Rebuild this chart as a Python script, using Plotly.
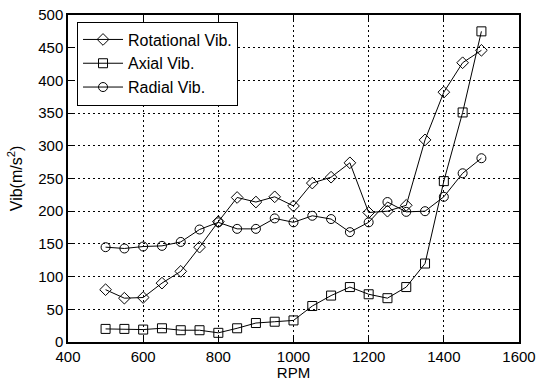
import plotly.graph_objects as go

rpm = [500, 550, 600, 650, 700, 750, 800, 850, 900, 950, 1000,
       1050, 1100, 1150, 1200, 1250, 1300, 1350, 1400, 1450, 1500]
rotational = [80, 67, 68, 90, 108, 145, 184, 221, 214, 222, 208,
              243, 252, 274, 198, 200, 209, 309, 382, 427, 446]
axial = [20, 20, 19, 21, 18, 18, 14, 21, 29, 31, 33,
         55, 71, 84, 73, 67, 84, 120, 246, 351, 475]
radial = [145, 143, 146, 147, 153, 172, 183, 173, 173, 189, 183,
          193, 188, 168, 183, 214, 199, 200, 222, 258, 281]

font = "Liberation Sans, Arial, sans-serif"
fig = go.Figure()
for name, vals, sym in [("Rotational Vib.", rotational, "diamond-open"),
                        ("Axial Vib.", axial, "square-open"),
                        ("Radial Vib.", radial, "circle-open")]:
    fig.add_trace(go.Scatter(
        x=rpm, y=vals, name=name, mode="lines+markers",
        line=dict(color="black", width=1),
        marker=dict(symbol=sym, size=9, color="black", line=dict(width=1, color="black")),
    ))

axis_common = dict(
    showline=True, linecolor="black", linewidth=1.5, mirror="ticks",
    ticks="inside", ticklen=5, tickcolor="black",
    showgrid=True, gridcolor="black", gridwidth=1, griddash="2px,3px",
    zeroline=False, tickfont=dict(family=font, size=15, color="black"),
    automargin=False,
)
fig.update_xaxes(range=[400, 1600], dtick=200, tick0=400,
                 title=dict(text="RPM", font=dict(family=font, size=15, color="black"), standoff=6),
                 **axis_common)
fig.update_yaxes(range=[0, 500], dtick=50, tick0=0,
                 title=dict(text="Vib(m/s<sup>2</sup>)", font=dict(family=font, size=16, color="black"), standoff=12),
                 **axis_common)
fig.update_layout(
    width=538, height=381,
    margin=dict(l=68, r=19, t=15, b=39),
    plot_bgcolor="white", paper_bgcolor="white",
    font=dict(family=font, size=15, color="black"),
    legend=dict(x=0.02, y=0.98, xanchor="left", yanchor="top",
                bgcolor="white", bordercolor="black", borderwidth=1,
                font=dict(family=font, size=16, color="black"),
                tracegroupgap=0, itemwidth=40),
    showlegend=True,
)
fig.write_html("out.html")
